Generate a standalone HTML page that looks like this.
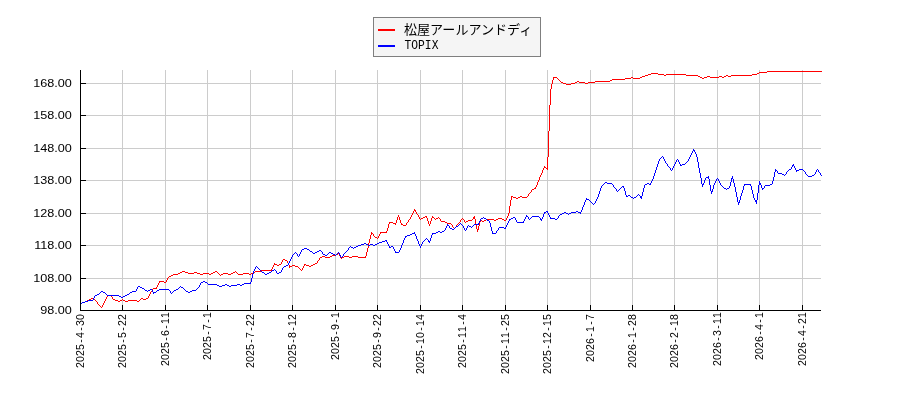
<!DOCTYPE html>
<html lang="ja"><head><meta charset="utf-8"><title>Stock chart</title>
<style>html,body{margin:0;padding:0;background:#fff}body{width:900px;height:400px;overflow:hidden}svg{display:block;will-change:transform}text{font-family:"Liberation Sans",sans-serif;fill:#000}.m{font-family:"Liberation Mono",monospace}</style>
</head><body>
<svg width="900" height="400" viewBox="0 0 900 400">
<rect width="900" height="400" fill="#fff"/>
<g shape-rendering="crispEdges" stroke="#ccc" stroke-width="1" fill="none">
<line x1="122.5" y1="70" x2="122.5" y2="310"/>
<line x1="165.5" y1="70" x2="165.5" y2="310"/>
<line x1="207.5" y1="70" x2="207.5" y2="310"/>
<line x1="250.5" y1="70" x2="250.5" y2="310"/>
<line x1="292.5" y1="70" x2="292.5" y2="310"/>
<line x1="335.5" y1="70" x2="335.5" y2="310"/>
<line x1="377.5" y1="70" x2="377.5" y2="310"/>
<line x1="420.5" y1="70" x2="420.5" y2="310"/>
<line x1="462.5" y1="70" x2="462.5" y2="310"/>
<line x1="505.5" y1="70" x2="505.5" y2="310"/>
<line x1="547.5" y1="70" x2="547.5" y2="310"/>
<line x1="590.5" y1="70" x2="590.5" y2="310"/>
<line x1="632.5" y1="70" x2="632.5" y2="310"/>
<line x1="674.5" y1="70" x2="674.5" y2="310"/>
<line x1="717.5" y1="70" x2="717.5" y2="310"/>
<line x1="759.5" y1="70" x2="759.5" y2="310"/>
<line x1="802.5" y1="70" x2="802.5" y2="310"/>
<line x1="81" y1="278.5" x2="821" y2="278.5"/>
<line x1="81" y1="245.5" x2="821" y2="245.5"/>
<line x1="81" y1="213.5" x2="821" y2="213.5"/>
<line x1="81" y1="180.5" x2="821" y2="180.5"/>
<line x1="81" y1="148.5" x2="821" y2="148.5"/>
<line x1="81" y1="115.5" x2="821" y2="115.5"/>
<line x1="81" y1="83.5" x2="821" y2="83.5"/>
</g>
<g shape-rendering="crispEdges" stroke="none">
<path fill="#f00" d="m289 265h1v3h-1zm77 -13h1v4h-1zm1 -4h1v4h-1zm1 -5h1v5h-1zm1 -4h1v4h-1zm1 -4h1v4h-1zm1 -3h1v3h-1zm16 -4h1v3h-1zm1 -4h1v4h-1zm8 -4h1v3h-1zm1 -3h1v3h-1zm2 0h1v3h-1zm1 3h1v3h-1zm27 -2h1v3h-1zm1 3h1v3h-1zm2 0h1v3h-1zm1 -3h1v3h-1zm43 -2h1v3h-1zm1 3h1v5h-1zm1 5h1v5h-1zm1 5h1v3h-1zm1 -3h1v4h-1zm1 -4h1v4h-1zm29 -9h1v3h-1zm1 -7h1v7h-1zm1 -6h1v6h-1zm1 -4h1v4h-1zm26 -14h1v3h-1zm2 -5h1v3h-1zm3 -7h1v3h-1zm5 -13h1v13h-1zm1 -26h1v26h-1zm1 -26h1v26h-1zm1 -16h1v16h-1zm1 -5h1v5h-1zm1 -4h1v4h-1zm1 -3h1v3h-1zm214 -6h55v1h-55zm-8 1h8v1h-8zm-108 1h7v1h-7zm106 0h2v1h-2zm-109 1h3v1h-3zm10 0h6v1h-6zm8 0h20v1h-20zm86 0h5v1h-5zm-107 1h3v1h-3zm19 0h2v1h-2zm22 0h12v1h-12zm40 0h2v1h-2zm5 0h21v1h-21zm-89 1h3v1h-3zm56 0h2v1h-2zm9 0h3v1h-3zm12 0h3v1h-3zm5 0h2v1h-2zm4 0h3v1h-3zm-174 1h3v1h-3zm77 0h2v1h-2zm9 0h2v1h-2zm60 0h2v1h-2zm4 0h3v1h-3zm6 0h9v1h-9zm12 0h2v1h-2zm-165 1h1v1h-1zm68 0h6v1h-6zm8 0h7v1h-7zm69 0h2v1h-2zm-144 1h1v1h-1zm54 0h13v1h-13zm-53 1h1v1h-1zm51 0h2v1h-2zm-50 1h1v1h-1zm17 0h2v1h-2zm18 0h15v1h-15zm-34 1h2v1h-2zm14 0h2v1h-2zm4 0h6v1h-6zm9 0h7v1h-7zm-25 1h3v1h-3zm8 0h4v1h-4zm14 0h3v1h-3zm-19 1h5v1h-5zm-22 82h1v1h-1zm0 1h2v1h-2zm-1 1h1v1h-1zm3 0h1v1h-1zm-3 1h1v1h-1zm-2 4h1v1h-1zm0 1h1v1h-1zm-1 1h1v1h-1zm0 1h1v1h-1zm-2 4h1v1h-1zm0 1h1v1h-1zm-2 4h1v1h-1zm0 1h1v1h-1zm-1 1h1v1h-1zm-1 1h2v1h-2zm-2 1h2v1h-2zm-1 1h1v1h-1zm0 1h1v1h-1zm-1 1h1v1h-1zm-1 1h1v1h-1zm-1 1h1v1h-1zm0 1h1v1h-1zm-16 1h1v1h-1zm8 0h2v1h-2zm7 0h1v1h-1zm-14 1h3v1h-3zm5 0h2v1h-2zm4 0h5v1h-5zm-6 1h2v1h-2zm-102 11h1v1h-1zm0 1h2v1h-2zm-1 1h1v1h-1zm2 0h1v1h-1zm-2 1h1v1h-1zm3 0h1v1h-1zm-4 1h1v1h-1zm4 0h1v1h-1zm-4 1h1v1h-1zm5 0h1v1h-1zm-19 1h1v1h-1zm13 0h1v1h-1zm7 0h1v1h-1zm-20 1h1v1h-1zm13 0h1v1h-1zm7 0h1v1h-1zm7 0h2v1h-2zm7 0h1v1h-1zm75 0h1v1h-1zm-97 1h1v1h-1zm9 0h1v1h-1zm4 0h2v1h-2zm3 0h1v1h-1zm6 0h2v1h-2zm6 0h1v1h-1zm35 0h1v1h-1zm34 0h1v1h-1zm-97 1h1v1h-1zm9 0h1v1h-1zm2 0h2v1h-2zm13 0h1v1h-1zm2 0h2v1h-2zm3 0h1v1h-1zm23 0h1v1h-1zm11 0h1v1h-1zm25 0h4v1h-4zm8 0h1v1h-1zm-97 1h1v1h-1zm11 0h1v1h-1zm15 0h1v1h-1zm5 0h1v1h-1zm21 0h1v1h-1zm2 0h1v1h-1zm9 0h1v1h-1zm14 0h8v1h-8zm10 0h2v1h-2zm6 0h2v1h-2zm4 0h1v1h-1zm-98 1h1v1h-1zm32 0h1v1h-1zm20 0h1v1h-1zm4 0h1v1h-1zm4 0h4v1h-4zm12 0h2v1h-2zm4 0h2v1h-2zm10 0h2v1h-2zm10 0h2v1h-2zm-96 1h1v1h-1zm33 0h4v1h-4zm19 0h1v1h-1zm4 0h1v1h-1zm2 0h2v1h-2zm14 0h1v1h-1zm2 0h2v1h-2zm-93 1h4v1h-4zm18 0h1v1h-1zm38 0h2v1h-2zm14 0h1v1h-1zm6 0h1v1h-1zm-76 1h1v1h-1zm4 0h3v1h-3zm8 0h1v1h-1zm5 0h1v1h-1zm41 0h4v1h-4zm11 0h1v1h-1zm-63 1h1v1h-1zm6 0h2v1h-2zm5 0h1v1h-1zm23 0h1v1h-1zm22 0h1v1h-1zm6 0h1v1h-1zm-54 1h3v1h-3zm26 0h1v1h-1zm23 0h1v1h-1zm4 0h1v1h-1zm-4 1h1v1h-1zm4 0h1v1h-1zm-3 1h1v1h-1zm2 0h1v1h-1zm-1 1h1v1h-1zm-68 3h1v1h-1zm-6 1h7v1h-7zm-8 1h1v1h-1zm8 0h1v1h-1zm-7 1h1v1h-1zm6 0h1v1h-1zm-6 1h1v1h-1zm6 0h1v1h-1zm-5 1h1v1h-1zm4 0h1v1h-1zm-3 1h2v1h-2zm3 0h1v1h-1zm-1 1h1v1h-1zm-39 15h1v1h-1zm-2 1h2v1h-2zm3 0h1v1h-1zm-7 1h4v1h-4zm7 0h1v1h-1zm-17 1h3v1h-3zm8 0h2v1h-2zm10 0h1v1h-1zm4 0h5v1h-5zm8 0h6v1h-6zm13 0h1v1h-1zm-45 1h2v1h-2zm5 0h5v1h-5zm15 0h1v1h-1zm2 0h2v1h-2zm7 0h3v1h-3zm9 0h8v1h-8zm-39 1h1v1h-1zm22 0h1v1h-1zm-58 1h2v1h-2zm36 0h1v1h-1zm-37 1h1v1h-1zm3 0h2v1h-2zm33 0h1v1h-1zm-36 1h1v1h-1zm5 0h1v1h-1zm30 0h1v1h-1zm-36 1h1v1h-1zm6 0h1v1h-1zm30 0h1v1h-1zm-43 1h1v1h-1zm7 0h1v1h-1zm7 0h1v1h-1zm27 0h2v1h-2zm-41 1h3v1h-3zm5 0h2v1h-2zm9 0h1v1h-1zm16 0h2v1h-2zm9 0h2v1h-2zm-40 1h1v1h-1zm4 0h2v1h-2zm15 0h3v1h-3zm12 0h1v1h-1zm2 0h3v1h-3zm5 0h2v1h-2zm-38 1h1v1h-1zm17 0h2v1h-2zm5 0h3v1h-3zm8 0h1v1h-1zm6 0h2v1h-2zm-37 1h1v1h-1zm26 0h1v1h-1zm5 0h1v1h-1zm-31 1h1v1h-1zm27 0h1v1h-1zm3 0h1v1h-1zm-31 1h1v1h-1zm29 0h1v1h-1zm2 0h1v1h-1zm-41 1h11v1h-11zm40 0h1v1h-1zm-119 1h3v1h-3zm33 0h2v1h-2zm20 0h1v1h-1zm20 0h6v1h-6zm-75 1h2v1h-2zm5 0h3v1h-3zm9 0h3v1h-3zm19 0h2v1h-2zm4 0h1v1h-1zm16 0h2v1h-2zm3 0h1v1h-1zm17 0h2v1h-2zm-75 1h2v1h-2zm10 0h6v1h-6zm9 0h3v1h-3zm6 0h6v1h-6zm8 0h2v1h-2zm7 0h1v1h-1zm5 0h5v1h-5zm8 0h2v1h-2zm6 0h1v1h-1zm6 0h6v1h-6zm8 0h2v1h-2zm-78 1h5v1h-5zm27 0h3v1h-3zm9 0h2v1h-2zm10 0h1v1h-1zm2 0h2v1h-2zm7 0h3v1h-3zm10 0h5v1h-5zm11 0h2v1h-2zm-78 1h2v1h-2zm49 0h1v1h-1zm-51 1h2v1h-2zm-1 1h1v1h-1zm-1 1h1v1h-1zm0 1h1v1h-1zm-1 1h1v1h-1zm-7 1h5v1h-5zm7 0h1v1h-1zm-7 1h1v1h-1zm5 0h2v1h-2zm-6 1h1v1h-1zm0 1h1v1h-1zm-1 1h1v1h-1zm0 1h1v1h-1zm-1 1h1v1h-1zm-3 1h4v1h-4zm-1 1h1v1h-1zm0 1h1v1h-1zm-1 1h1v1h-1zm-1 1h1v1h-1zm0 1h1v1h-1zm-1 1h1v1h-1zm-42 1h4v1h-4zm42 0h1v1h-1zm-42 1h1v1h-1zm4 0h1v1h-1zm37 0h1v1h-1zm-42 1h1v1h-1zm6 0h1v1h-1zm36 0h1v1h-1zm-57 1h2v1h-2zm15 0h1v1h-1zm6 0h1v1h-1zm29 0h2v1h-2zm5 0h2v1h-2zm-57 1h2v1h-2zm4 0h2v1h-2zm12 0h1v1h-1zm8 0h2v1h-2zm9 0h1v1h-1zm18 0h1v1h-1zm3 0h3v1h-3zm-56 1h2v1h-2zm8 0h1v1h-1zm10 0h1v1h-1zm10 0h3v1h-3zm5 0h2v1h-2zm3 0h2v1h-2zm5 0h9v1h-9zm11 0h1v1h-1zm-54 1h2v1h-2zm11 0h1v1h-1zm8 0h1v1h-1zm14 0h2v1h-2zm7 0h3v1h-3zm12 0h2v1h-2zm-55 1h3v1h-3zm15 0h1v1h-1zm7 0h1v1h-1zm-24 1h2v1h-2zm17 0h1v1h-1zm6 0h1v1h-1zm-5 1h1v1h-1zm5 0h1v1h-1zm-4 1h1v1h-1zm3 0h1v1h-1zm-2 1h1v1h-1zm2 0h1v1h-1zm-1 1h1v1h-1z"/>
<path fill="#00f" d="m251 278h1v4h-1zm1 -4h1v4h-1zm1 -3h1v3h-1zm148 -26h1v3h-1zm2 -5h1v3h-1zm13 -4h1v3h-1zm2 5h1v3h-1zm12 -3h1v3h-1zm1 -3h1v3h-1zm59 -12h1v4h-1zm1 4h1v4h-1zm1 4h1v3h-1zm51 -17h1v3h-1zm39 -7h1v3h-1zm2 -5h1v3h-1zm14 -8h1v3h-1zm1 -3h1v3h-1zm1 -3h1v3h-1zm24 0h1v3h-1zm1 3h1v4h-1zm16 5h1v3h-1zm1 -4h1v4h-1zm1 -4h1v4h-1zm1 -3h1v3h-1zm9 -9h1v3h-1zm1 -3h1v3h-1zm1 -3h1v3h-1zm1 -3h1v3h-1zm1 -3h1v3h-1zm1 -3h1v3h-1zm38 -7h1v3h-1zm1 3h1v5h-1zm1 5h1v6h-1zm1 6h1v5h-1zm1 5h1v5h-1zm1 5h1v6h-1zm1 6h1v3h-1zm2 -4h1v3h-1zm4 -4h1v3h-1zm1 3h1v6h-1zm1 6h1v6h-1zm1 6h1v3h-1zm1 -2h1v3h-1zm1 -4h1v4h-1zm17 -3h1v4h-1zm1 -4h1v4h-1zm1 -2h1v3h-1zm1 3h1v4h-1zm1 4h1v4h-1zm1 4h1v5h-1zm1 5h1v5h-1zm1 5h1v5h-1zm1 5h1v3h-1zm1 -2h1v3h-1zm1 -4h1v4h-1zm1 -3h1v3h-1zm1 -3h1v3h-1zm1 -4h1v4h-1zm8 0h1v4h-1zm1 4h1v4h-1zm1 4h1v4h-1zm3 6h1v4h-1zm1 -7h1v7h-1zm1 -8h1v8h-1zm1 -4h1v4h-1zm2 4h1v3h-1zm11 -4h1v3h-1zm1 -4h1v4h-1zm1 -5h1v5h-1zm1 -3h1v3h-1zm-82 -20h1v1h-1zm0 1h2v1h-2zm-1 1h1v1h-1zm2 0h1v1h-1zm-2 1h1v1h-1zm3 0h1v1h-1zm-4 1h1v1h-1zm4 0h1v1h-1zm-4 1h1v1h-1zm-1 1h1v1h-1zm-28 1h1v1h-1zm28 0h1v1h-1zm-29 1h1v1h-1zm2 0h1v1h-1zm26 0h1v1h-1zm-29 1h1v1h-1zm3 0h1v1h-1zm26 0h1v1h-1zm-30 1h1v1h-1zm5 0h1v1h-1zm13 0h1v1h-1zm11 0h1v1h-1zm-29 1h1v1h-1zm5 0h1v1h-1zm12 0h1v1h-1zm2 0h1v1h-1zm10 0h1v1h-1zm-23 1h1v1h-1zm11 0h1v1h-1zm2 0h1v1h-1zm9 0h1v1h-1zm-22 1h1v1h-1zm10 0h1v1h-1zm4 0h1v1h-1zm7 0h1v1h-1zm-20 1h1v1h-1zm9 0h1v1h-1zm4 0h1v1h-1zm6 0h1v1h-1zm-18 1h1v1h-1zm7 0h1v1h-1zm6 0h1v1h-1zm2 0h3v1h-3zm111 0h1v1h-1zm-126 1h1v1h-1zm7 0h1v1h-1zm6 0h2v1h-2zm112 0h2v1h-2zm-124 1h1v1h-1zm5 0h1v1h-1zm119 0h1v1h-1zm2 0h1v1h-1zm-125 1h1v1h-1zm4 0h1v1h-1zm118 0h1v1h-1zm3 0h1v1h-1zm-124 1h1v1h-1zm2 0h1v1h-1zm119 0h1v1h-1zm4 0h1v1h-1zm-125 1h1v1h-1zm2 0h1v1h-1zm117 0h2v1h-2zm6 0h1v1h-1zm4 0h4v1h-4zm18 0h1v1h-1zm-146 1h1v1h-1zm105 0h1v1h-1zm12 0h1v1h-1zm8 0h3v1h-3zm7 0h1v1h-1zm13 0h1v1h-1zm2 0h1v1h-1zm-41 1h1v1h-1zm10 0h1v1h-1zm9 0h1v1h-1zm8 0h1v1h-1zm12 0h1v1h-1zm2 0h1v1h-1zm-41 1h1v1h-1zm9 0h1v1h-1zm19 0h1v1h-1zm10 0h1v1h-1zm4 0h1v1h-1zm-41 1h4v1h-4zm8 0h1v1h-1zm19 0h1v1h-1zm10 0h1v1h-1zm5 0h1v1h-1zm-38 1h2v1h-2zm3 0h1v1h-1zm21 0h1v1h-1zm8 0h1v1h-1zm6 0h1v1h-1zm-36 1h1v1h-1zm23 0h1v1h-1zm5 0h2v1h-2zm9 0h1v1h-1zm-13 1h4v1h-4zm-102 1h2v1h-2zm-1 1h1v1h-1zm12 0h1v1h-1zm-65 1h1v1h-1zm53 0h1v1h-1zm11 0h1v1h-1zm2 0h1v1h-1zm-66 1h1v1h-1zm64 0h1v1h-1zm2 0h1v1h-1zm-67 1h1v1h-1zm64 0h1v1h-1zm4 0h1v1h-1zm-114 1h2v1h-2zm46 0h1v1h-1zm64 0h1v1h-1zm4 0h1v1h-1zm-115 1h1v1h-1zm3 0h5v1h-5zm40 0h2v1h-2zm3 0h1v1h-1zm53 0h1v1h-1zm11 0h1v1h-1zm6 0h1v1h-1zm40 0h1v1h-1zm-157 1h1v1h-1zm9 0h1v1h-1zm33 0h2v1h-2zm4 0h2v1h-2zm54 0h1v1h-1zm11 0h1v1h-1zm6 0h1v1h-1zm24 0h7v1h-7zm16 0h1v1h-1zm10 0h2v1h-2zm-168 1h1v1h-1zm11 0h1v1h-1zm108 0h1v1h-1zm23 0h1v1h-1zm6 0h1v1h-1zm15 0h5v1h-5zm-164 1h1v1h-1zm12 0h1v1h-1zm9 0h2v1h-2zm100 0h1v1h-1zm7 0h1v1h-1zm35 0h1v1h-1zm-163 1h1v1h-1zm13 0h1v1h-1zm7 0h1v1h-1zm2 0h1v1h-1zm100 0h1v1h-1zm6 0h1v1h-1zm35 0h1v1h-1zm-149 1h1v1h-1zm5 0h1v1h-1zm104 0h2v1h-2zm3 0h2v1h-2zm35 0h2v1h-2zm-146 1h1v1h-1zm3 0h1v1h-1zm107 0h1v1h-1zm36 0h1v1h-1zm-146 1h1v1h-1zm2 0h1v1h-1zm-1 1h1v1h-1zm21 3h1v1h-1zm-12 1h1v1h-1zm2 0h2v1h-2zm9 0h1v1h-1zm2 0h1v1h-1zm-13 1h2v1h-2zm4 0h1v1h-1zm6 0h1v1h-1zm4 0h1v1h-1zm-43 1h1v1h-1zm34 0h2v1h-2zm3 0h2v1h-2zm6 0h1v1h-1zm-54 1h1v1h-1zm11 0h1v1h-1zm36 0h1v1h-1zm121 0h1v1h-1zm-168 1h3v1h-3zm10 0h1v1h-1zm158 0h1v1h-1zm-169 1h1v1h-1zm4 0h1v1h-1zm7 0h1v1h-1zm159 0h1v1h-1zm-170 1h1v1h-1zm5 0h1v1h-1zm5 0h1v1h-1zm160 0h1v1h-1zm-164 1h1v1h-1zm4 0h1v1h-1zm-3 1h1v1h-1zm2 0h1v1h-1zm-1 1h1v1h-1zm-10 1h1v1h-1zm0 1h1v1h-1zm-2 4h1v1h-1zm-35 1h2v1h-2zm30 0h2v1h-2zm5 0h1v1h-1zm-37 1h2v1h-2zm3 0h1v1h-1zm17 0h2v1h-2zm7 0h5v1h-5zm7 0h3v1h-3zm-34 1h1v1h-1zm4 0h1v1h-1zm14 0h2v1h-2zm4 0h2v1h-2zm3 0h2v1h-2zm11 0h1v1h-1zm-32 1h1v1h-1zm12 0h2v1h-2zm8 0h1v1h-1zm-42 1h1v1h-1zm23 0h1v1h-1zm10 0h1v1h-1zm-33 1h2v1h-2zm6 0h7v1h-7zm17 0h1v1h-1zm9 0h1v1h-1zm-75 1h1v1h-1zm30 0h2v1h-2zm12 0h1v1h-1zm3 0h1v1h-1zm3 0h1v1h-1zm8 0h1v1h-1zm3 0h1v1h-1zm8 0h1v1h-1zm8 0h1v1h-1zm-77 1h2v1h-2zm3 0h2v1h-2zm27 0h2v1h-2zm4 0h1v1h-1zm10 0h1v1h-1zm3 0h1v1h-1zm2 0h1v1h-1zm10 0h1v1h-1zm2 0h1v1h-1zm8 0h5v1h-5zm7 0h1v1h-1zm-77 1h1v1h-1zm6 0h1v1h-1zm23 0h2v1h-2zm6 0h1v1h-1zm9 0h1v1h-1zm5 0h1v1h-1zm11 0h2v1h-2zm15 0h2v1h-2zm-75 1h1v1h-1zm7 0h2v1h-2zm22 0h1v1h-1zm7 0h1v1h-1zm8 0h1v1h-1zm17 0h1v1h-1zm-62 1h1v1h-1zm10 0h1v1h-1zm19 0h1v1h-1zm8 0h1v1h-1zm7 0h1v1h-1zm-44 1h1v1h-1zm10 0h1v1h-1zm19 0h1v1h-1zm9 0h7v1h-7zm-57 1h1v1h-1zm18 0h1v1h-1zm29 0h1v1h-1zm-60 1h1v1h-1zm12 0h1v1h-1zm2 0h1v1h-1zm13 0h5v1h-5zm33 0h1v1h-1zm-60 1h2v1h-2zm11 0h1v1h-1zm4 0h1v1h-1zm6 0h1v1h-1zm5 0h1v1h-1zm33 0h1v1h-1zm-60 1h1v1h-1zm3 0h1v1h-1zm7 0h2v1h-2zm7 0h1v1h-1zm4 0h1v1h-1zm2 0h2v1h-2zm3 0h1v1h-1zm34 0h1v1h-1zm-60 1h1v1h-1zm3 0h1v1h-1zm6 0h1v1h-1zm8 0h1v1h-1zm4 0h1v1h-1zm4 0h1v1h-1zm28 0h5v1h-5zm6 0h1v1h-1zm-60 1h1v1h-1zm5 0h2v1h-2zm4 0h1v1h-1zm10 0h1v1h-1zm2 0h1v1h-1zm32 0h1v1h-1zm6 0h2v1h-2zm-59 1h1v1h-1zm7 0h2v1h-2zm12 0h1v1h-1zm2 0h1v1h-1zm32 0h1v1h-1zm-54 1h1v1h-1zm21 0h1v1h-1zm32 0h1v1h-1zm-59 1h2v1h-2zm4 0h2v1h-2zm54 0h1v1h-1zm-82 1h1v1h-1zm22 0h2v1h-2zm4 0h2v1h-2zm56 0h1v1h-1zm-84 1h3v1h-3zm20 0h4v1h-4zm61 0h3v1h-3zm-83 1h2v1h-2zm5 0h1v1h-1zm17 0h1v1h-1zm-25 1h3v1h-3zm8 0h1v1h-1zm-10 1h2v1h-2zm0 1h1v1h-1zm-1 1h1v1h-1zm22 0h1v1h-1zm-22 1h1v1h-1zm13 0h1v1h-1zm8 0h1v1h-1zm2 0h1v1h-1zm-42 1h2v1h-2zm32 0h1v1h-1zm7 0h1v1h-1zm4 0h1v1h-1zm-46 1h3v1h-3zm4 0h1v1h-1zm37 0h1v1h-1zm5 0h2v1h-2zm-49 1h3v1h-3zm8 0h1v1h-1zm35 0h1v1h-1zm7 0h1v1h-1zm-65 1h2v1h-2zm13 0h2v1h-2zm10 0h1v1h-1zm15 0h1v1h-1zm20 0h1v1h-1zm-61 1h3v1h-3zm5 0h2v1h-2zm4 0h3v1h-3zm5 0h2v1h-2zm13 0h1v1h-1zm14 0h1v1h-1zm17 0h1v1h-1zm2 0h1v1h-1zm-63 1h3v1h-3zm10 0h2v1h-2zm5 0h2v1h-2zm15 0h1v1h-1zm31 0h1v1h-1zm2 0h1v1h-1zm-71 1h1v1h-1zm6 0h2v1h-2zm33 0h1v1h-1zm2 0h2v1h-2zm29 0h1v1h-1zm-71 1h1v1h-1zm2 0h2v1h-2zm3 0h2v1h-2zm35 0h2v1h-2zm4 0h1v1h-1zm27 0h1v1h-1zm-116 1h3v1h-3zm44 0h1v1h-1zm5 0h1v1h-1zm40 0h1v1h-1zm7 0h1v1h-1zm-98 1h2v1h-2zm5 0h2v1h-2zm41 0h1v1h-1zm46 0h1v1h-1zm6 0h1v1h-1zm-99 1h1v1h-1zm8 0h1v1h-1zm10 0h2v1h-2zm28 0h1v1h-1zm47 0h1v1h-1zm5 0h1v1h-1zm-98 1h1v1h-1zm9 0h2v1h-2zm7 0h2v1h-2zm4 0h1v1h-1zm25 0h1v1h-1zm49 0h1v1h-1zm4 0h1v1h-1zm-104 1h1v1h-1zm5 0h1v1h-1zm12 0h1v1h-1zm3 0h2v1h-2zm7 0h1v1h-1zm7 0h2v1h-2zm9 0h1v1h-1zm7 0h1v1h-1zm50 0h4v1h-4zm-101 1h1v1h-1zm2 0h1v1h-1zm4 0h1v1h-1zm13 0h2v1h-2zm9 0h1v1h-1zm6 0h1v1h-1zm3 0h2v1h-2zm6 0h1v1h-1zm2 0h1v1h-1zm5 0h1v1h-1zm-51 1h1v1h-1zm4 0h1v1h-1zm2 0h1v1h-1zm24 0h2v1h-2zm4 0h1v1h-1zm6 0h2v1h-2zm3 0h1v1h-1zm3 0h1v1h-1zm4 0h1v1h-1zm-51 1h1v1h-1zm5 0h1v1h-1zm2 0h1v1h-1zm26 0h2v1h-2zm10 0h1v1h-1zm5 0h1v1h-1zm3 0h1v1h-1zm-51 1h1v1h-1zm6 0h1v1h-1zm42 0h1v1h-1zm2 0h1v1h-1zm-51 1h1v1h-1zm50 0h1v1h-1zm-50 1h1v1h-1zm-1 1h1v1h-1zm0 1h1v1h-1zm-1 1h1v1h-1zm0 1h1v1h-1zm-1 1h1v1h-1zm0 1h1v1h-1zm-2 1h2v1h-2zm-30 1h1v1h-1zm28 0h2v1h-2zm-29 1h1v1h-1zm2 0h1v1h-1zm26 0h1v1h-1zm-28 1h1v1h-1zm3 0h1v1h-1zm24 0h1v1h-1zm-28 1h1v1h-1zm5 0h1v1h-1zm15 0h1v1h-1zm8 0h1v1h-1zm-28 1h1v1h-1zm6 0h1v1h-1zm12 0h2v1h-2zm3 0h1v1h-1zm6 0h1v1h-1zm-20 1h1v1h-1zm10 0h1v1h-1zm5 0h1v1h-1zm5 0h1v1h-1zm-19 1h2v1h-2zm7 0h2v1h-2zm7 0h1v1h-1zm3 0h2v1h-2zm-15 1h1v1h-1zm3 0h2v1h-2zm10 0h2v1h-2zm-12 1h2v1h-2zm-62 7h2v1h-2zm-2 1h2v1h-2zm4 0h2v1h-2zm45 0h1v1h-1zm-50 1h1v1h-1zm7 0h1v1h-1zm37 0h7v1h-7zm-44 1h1v1h-1zm8 0h9v1h-9zm17 0h2v1h-2zm12 0h3v1h-3zm5 0h2v1h-2zm-43 1h1v1h-1zm18 0h2v1h-2zm5 0h3v1h-3zm5 0h2v1h-2zm4 0h6v1h-6zm9 0h2v1h-2zm-102 1h2v1h-2zm42 0h1v1h-1zm19 0h1v1h-1zm20 0h3v1h-3zm10 0h2v1h-2zm-92 1h1v1h-1zm3 0h2v1h-2zm39 0h1v1h-1zm2 0h2v1h-2zm17 0h1v1h-1zm-61 1h1v1h-1zm5 0h2v1h-2zm36 0h1v1h-1zm5 0h1v1h-1zm14 0h1v1h-1zm-61 1h1v1h-1zm8 0h1v1h-1zm6 0h2v1h-2zm9 0h10v1h-10zm17 0h2v1h-2zm8 0h1v1h-1zm12 0h1v1h-1zm-60 1h1v1h-1zm9 0h2v1h-2zm3 0h2v1h-2zm4 0h1v1h-1zm5 0h2v1h-2zm12 0h1v1h-1zm5 0h2v1h-2zm11 0h1v1h-1zm7 0h4v1h-4zm-91 1h2v1h-2zm31 0h4v1h-4zm15 0h1v1h-1zm5 0h1v1h-1zm4 0h1v1h-1zm14 0h1v1h-1zm3 0h1v1h-1zm13 0h2v1h-2zm4 0h2v1h-2zm-90 1h1v1h-1zm3 0h2v1h-2zm27 0h2v1h-2zm23 0h3v1h-3zm17 0h1v1h-1zm2 0h1v1h-1zm16 0h2v1h-2zm-89 1h1v1h-1zm6 0h1v1h-1zm24 0h1v1h-1zm24 0h1v1h-1zm18 0h1v1h-1zm-74 1h2v1h-2zm9 0h1v1h-1zm21 0h2v1h-2zm-32 1h2v1h-2zm12 0h12v1h-12zm18 0h2v1h-2zm-31 1h1v1h-1zm25 0h2v1h-2zm4 0h2v1h-2zm-29 1h1v1h-1zm27 0h2v1h-2zm-28 1h1v1h-1zm0 1h1v1h-1zm-5 1h5v1h-5zm-3 1h3v1h-3zm-3 1h3v1h-3zm-2 1h2v1h-2z"/>
</g>
<g shape-rendering="crispEdges" stroke="#000" stroke-width="1" fill="none">
<line x1="80.5" y1="70" x2="80.5" y2="311"/>
<line x1="80" y1="310.5" x2="821" y2="310.5"/>
<line x1="122.5" y1="305" x2="122.5" y2="310"/>
<line x1="165.5" y1="305" x2="165.5" y2="310"/>
<line x1="207.5" y1="305" x2="207.5" y2="310"/>
<line x1="250.5" y1="305" x2="250.5" y2="310"/>
<line x1="292.5" y1="305" x2="292.5" y2="310"/>
<line x1="335.5" y1="305" x2="335.5" y2="310"/>
<line x1="377.5" y1="305" x2="377.5" y2="310"/>
<line x1="420.5" y1="305" x2="420.5" y2="310"/>
<line x1="462.5" y1="305" x2="462.5" y2="310"/>
<line x1="505.5" y1="305" x2="505.5" y2="310"/>
<line x1="547.5" y1="305" x2="547.5" y2="310"/>
<line x1="590.5" y1="305" x2="590.5" y2="310"/>
<line x1="632.5" y1="305" x2="632.5" y2="310"/>
<line x1="674.5" y1="305" x2="674.5" y2="310"/>
<line x1="717.5" y1="305" x2="717.5" y2="310"/>
<line x1="759.5" y1="305" x2="759.5" y2="310"/>
<line x1="802.5" y1="305" x2="802.5" y2="310"/>
<line x1="81" y1="278.5" x2="86" y2="278.5"/>
<line x1="81" y1="245.5" x2="86" y2="245.5"/>
<line x1="81" y1="213.5" x2="86" y2="213.5"/>
<line x1="81" y1="180.5" x2="86" y2="180.5"/>
<line x1="81" y1="148.5" x2="86" y2="148.5"/>
<line x1="81" y1="115.5" x2="86" y2="115.5"/>
<line x1="81" y1="83.5" x2="86" y2="83.5"/>
</g>
<g text-anchor="end">
<text transform="translate(71.9,313.5) scale(1.11,1)" font-size="11.4">98.00</text>
<text transform="translate(71.9,281.5) scale(1.11,1)" font-size="11.4">108.00</text>
<text transform="translate(71.9,248.5) scale(1.11,1)" font-size="11.4">118.00</text>
<text transform="translate(71.9,216.5) scale(1.11,1)" font-size="11.4">128.00</text>
<text transform="translate(71.9,183.5) scale(1.11,1)" font-size="11.4">138.00</text>
<text transform="translate(71.9,151.5) scale(1.11,1)" font-size="11.4">148.00</text>
<text transform="translate(71.9,118.5) scale(1.11,1)" font-size="11.4">158.00</text>
<text transform="translate(71.9,86.5) scale(1.11,1)" font-size="11.4">168.00</text>
</g>
<g text-anchor="middle">
<text transform="translate(83.8,314.1) rotate(-90) scale(0.93,1)" font-size="11.4" x="-54.84 -48.39 -41.94 -35.48 -29.03 -22.58 -16.13 -9.68 -3.23">2025-4-30</text>
<text transform="translate(125.8,314.1) rotate(-90) scale(0.93,1)" font-size="11.4" x="-54.84 -48.39 -41.94 -35.48 -29.03 -22.58 -16.13 -9.68 -3.23">2025-5-22</text>
<text transform="translate(168.8,312) rotate(-90) scale(0.93,1)" font-size="11.4" x="-54.84 -48.39 -41.94 -35.48 -29.03 -22.58 -16.13 -9.68 -3.23">2025-6-11</text>
<text transform="translate(210.8,312) rotate(-90) scale(0.93,1)" font-size="11.4" x="-48.39 -41.94 -35.48 -29.03 -22.58 -16.13 -9.68 -3.23">2025-7-1</text>
<text transform="translate(253.8,314.1) rotate(-90) scale(0.93,1)" font-size="11.4" x="-54.84 -48.39 -41.94 -35.48 -29.03 -22.58 -16.13 -9.68 -3.23">2025-7-22</text>
<text transform="translate(295.8,314.1) rotate(-90) scale(0.93,1)" font-size="11.4" x="-54.84 -48.39 -41.94 -35.48 -29.03 -22.58 -16.13 -9.68 -3.23">2025-8-12</text>
<text transform="translate(338.8,312) rotate(-90) scale(0.93,1)" font-size="11.4" x="-48.39 -41.94 -35.48 -29.03 -22.58 -16.13 -9.68 -3.23">2025-9-1</text>
<text transform="translate(380.8,314.1) rotate(-90) scale(0.93,1)" font-size="11.4" x="-54.84 -48.39 -41.94 -35.48 -29.03 -22.58 -16.13 -9.68 -3.23">2025-9-22</text>
<text transform="translate(423.8,314.1) rotate(-90) scale(0.93,1)" font-size="11.4" x="-61.29 -54.84 -48.39 -41.94 -35.48 -29.03 -22.58 -16.13 -9.68 -3.23">2025-10-14</text>
<text transform="translate(465.8,314.1) rotate(-90) scale(0.93,1)" font-size="11.4" x="-54.84 -48.39 -41.94 -35.48 -29.03 -22.58 -16.13 -9.68 -3.23">2025-11-4</text>
<text transform="translate(508.8,314.1) rotate(-90) scale(0.93,1)" font-size="11.4" x="-61.29 -54.84 -48.39 -41.94 -35.48 -29.03 -22.58 -16.13 -9.68 -3.23">2025-11-25</text>
<text transform="translate(550.8,314.1) rotate(-90) scale(0.93,1)" font-size="11.4" x="-61.29 -54.84 -48.39 -41.94 -35.48 -29.03 -22.58 -16.13 -9.68 -3.23">2025-12-15</text>
<text transform="translate(593.8,314.1) rotate(-90) scale(0.93,1)" font-size="11.4" x="-48.39 -41.94 -35.48 -29.03 -22.58 -16.13 -9.68 -3.23">2026-1-7</text>
<text transform="translate(635.8,314.1) rotate(-90) scale(0.93,1)" font-size="11.4" x="-54.84 -48.39 -41.94 -35.48 -29.03 -22.58 -16.13 -9.68 -3.23">2026-1-28</text>
<text transform="translate(677.8,314.1) rotate(-90) scale(0.93,1)" font-size="11.4" x="-54.84 -48.39 -41.94 -35.48 -29.03 -22.58 -16.13 -9.68 -3.23">2026-2-18</text>
<text transform="translate(720.8,312) rotate(-90) scale(0.93,1)" font-size="11.4" x="-54.84 -48.39 -41.94 -35.48 -29.03 -22.58 -16.13 -9.68 -3.23">2026-3-11</text>
<text transform="translate(762.8,312) rotate(-90) scale(0.93,1)" font-size="11.4" x="-48.39 -41.94 -35.48 -29.03 -22.58 -16.13 -9.68 -3.23">2026-4-1</text>
<text transform="translate(805.8,312) rotate(-90) scale(0.93,1)" font-size="11.4" x="-54.84 -48.39 -41.94 -35.48 -29.03 -22.58 -16.13 -9.68 -3.23">2026-4-21</text>
</g>
<rect x="373.5" y="17.5" width="167" height="39" fill="#f5f5f5" stroke="#7f7f7f" stroke-width="1" shape-rendering="crispEdges"/>
<g shape-rendering="crispEdges" stroke-width="2"><line x1="378" y1="30" x2="395" y2="30" stroke="#f00"/><line x1="378" y1="46" x2="395" y2="46" stroke="#00f"/></g>
<text x="404" y="34.1" font-size="13.06" fill="#000" stroke="none" style="font-family:'Liberation Sans','Noto Sans CJK JP',sans-serif">松屋アールアンドディ</text>
<text class="m" transform="translate(404.6,48.8) scale(0.835,1)" font-size="13.5">TOPIX</text>
</svg>
</body></html>
